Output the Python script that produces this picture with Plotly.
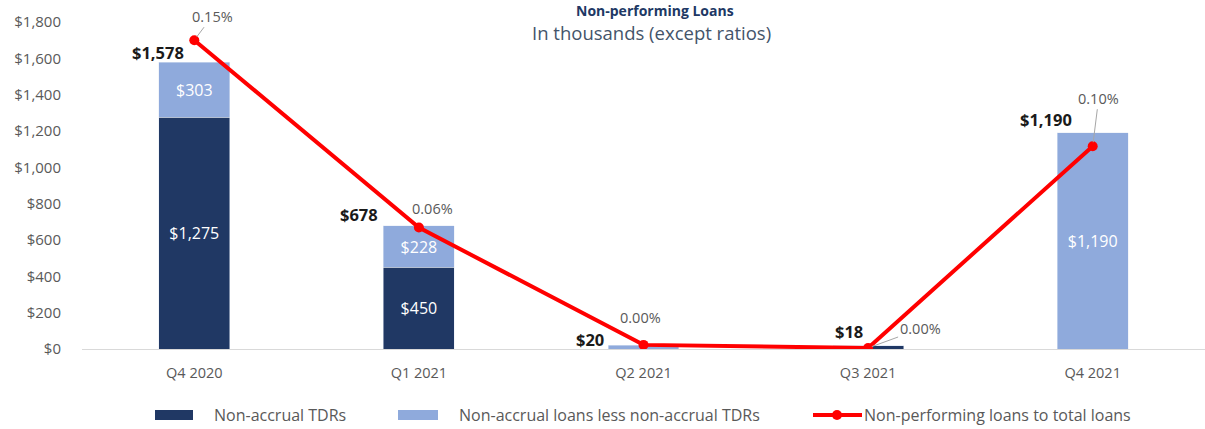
import plotly.graph_objects as go

categories = ["Q4 2020", "Q1 2021", "Q2 2021", "Q3 2021", "Q4 2021"]
non_accrual_tdrs = [1275, 450, 0, 18, 0]
non_accrual_less_tdrs = [303, 228, 20, 0, 1190]
totals = [1578, 678, 20, 18, 1190]
npl_ratio = [0.150, 0.059, 0.002, 0.0005, 0.0985]  # percent
ratio_labels = ["0.15%", "0.06%", "0.00%", "0.00%", "0.10%"]
y_ticks = [0, 200, 400, 600, 800, 1000, 1200, 1400, 1600, 1800]
series_names = ["Non-accrual TDRs", "Non-accrual loans less non-accrual TDRs",
                "Non-performing loans to total loans"]

FONT = "Open Sans"
NAVY = "#203864"
LIGHT = "#8FAADC"
RED = "#FF0000"
GRAY = "#595959"

W, H = 1205, 429
ML, MR, MT, MB = 82, 0, 22, 80
PW, PH = W - ML - MR, H - MT - MB


def px_x(p):
    return (p - ML) / PW


def px_y(p):
    return 1 - (p - MT) / PH


def money(v):
    return f"${v:,}"


fig = go.Figure()
fig.add_trace(go.Bar(
    x=categories, y=non_accrual_tdrs, name=series_names[0],
    marker_color=NAVY,
    text=[money(v) if v >= 100 else "" for v in non_accrual_tdrs],
    textposition="inside", insidetextanchor="middle", textangle=0,
    textfont=dict(family=FONT, size=16, color="white"),
    constraintext="none", showlegend=False,
))
fig.add_trace(go.Bar(
    x=categories, y=non_accrual_less_tdrs, name=series_names[1],
    marker_color=LIGHT,
    text=[money(v) if v >= 100 else "" for v in non_accrual_less_tdrs],
    textposition="inside", insidetextanchor="middle", textangle=0,
    textfont=dict(family=FONT, size=16, color="white"),
    constraintext="none", showlegend=False,
))
fig.add_trace(go.Scatter(
    x=categories, y=npl_ratio, name=series_names[2],
    mode="lines+markers", yaxis="y2",
    line=dict(color=RED, width=4),
    marker=dict(color=RED, size=10),
    showlegend=False,
))

# total labels (pixel offsets from top of stacked bar)
total_offsets = [(-36, 10), (-60, 11), (-54, 6), (-19, 14), (-47, 13)]
for c, t, (dx, dy) in zip(categories, totals, total_offsets):
    fig.add_annotation(x=c, y=t, xref="x", yref="y", text=f"<b>{money(t)}</b>",
                       showarrow=False, xshift=dx, yshift=dy,
                       font=dict(family=FONT, size=16.5, color="#1a1a1a"))

# ratio labels
ratio_offsets = [(18, -24, True), (14, 19, False), (-3, 27, False), (52, -19, True), (6, -48, True)]
for c, r, lab, (dx, dy, arrow) in zip(categories, npl_ratio, ratio_labels, ratio_offsets):
    if arrow:
        fig.add_annotation(x=c, y=r, xref="x", yref="y2", text=lab, showarrow=True,
                           ax=dx, ay=dy, arrowhead=0, arrowwidth=1, arrowcolor="#A6A6A6",
                           standoff=4, font=dict(family=FONT, size=14.5, color=GRAY))
    else:
        fig.add_annotation(x=c, y=r, xref="x", yref="y2", text=lab, showarrow=False,
                           xshift=dx, yshift=dy, font=dict(family=FONT, size=14.5, color=GRAY))

# titles
fig.add_annotation(x=px_x(655), y=px_y(0), xref="paper", yref="paper",
                   text="<b>Non-performing Loans</b>", showarrow=False, yanchor="top",
                   borderpad=0, font=dict(family=FONT, size=14, color=NAVY))
fig.add_annotation(x=px_x(651), y=px_y(33), xref="paper", yref="paper",
                   text="In thousands (except ratios)", showarrow=False, yanchor="middle",
                   borderpad=0, font=dict(family=FONT, size=18.5, color="#44546A"))

# manual legend (wide swatches as in the reference)
LEG_Y = 415
fig.add_shape(type="rect", xref="paper", yref="paper", x0=px_x(155), x1=px_x(193),
              y0=px_y(LEG_Y + 5), y1=px_y(LEG_Y - 5), fillcolor=NAVY, line_width=0)
fig.add_shape(type="rect", xref="paper", yref="paper", x0=px_x(398), x1=px_x(438),
              y0=px_y(LEG_Y + 5), y1=px_y(LEG_Y - 5), fillcolor=LIGHT, line_width=0)
fig.add_shape(type="line", xref="paper", yref="paper", x0=px_x(813), x1=px_x(862),
              y0=px_y(LEG_Y), y1=px_y(LEG_Y), line=dict(color=RED, width=4))
fig.add_shape(type="circle", xref="paper", yref="paper", x0=px_x(832), x1=px_x(842),
              y0=px_y(LEG_Y + 5), y1=px_y(LEG_Y - 5), fillcolor=RED, line_width=0)
for name, xpos in zip(series_names, [212, 457, 862]):
    fig.add_annotation(x=px_x(xpos), y=px_y(LEG_Y), xref="paper", yref="paper",
                       text=name, showarrow=False, xanchor="left", yanchor="middle",
                       font=dict(family=FONT, size=16, color=GRAY))

fig.update_layout(
    width=W, height=H,
    margin=dict(l=ML, r=MR, t=MT, b=MB),
    paper_bgcolor="white", plot_bgcolor="white",
    barmode="stack", bargap=0.684,
    font=dict(family=FONT, size=14, color=GRAY),
    showlegend=False,
    xaxis=dict(showgrid=False, showline=True, linecolor="#D9D9D9", linewidth=1,
               ticks="", ticklabelstandoff=11,
               tickfont=dict(family=FONT, size=14.5, color=GRAY)),
    yaxis=dict(range=[0, 1800], tickvals=y_ticks, ticktext=[money(v) for v in y_ticks],
               showgrid=False, zeroline=False, showline=False, ticks="",
               ticklabelstandoff=20, tickfont=dict(family=FONT, size=15, color=GRAY)),
    yaxis2=dict(overlaying="y", side="right", range=[0, 0.15 * 1800 / 1700],
                visible=False, showgrid=False),
)

fig.write_html("out.html")
